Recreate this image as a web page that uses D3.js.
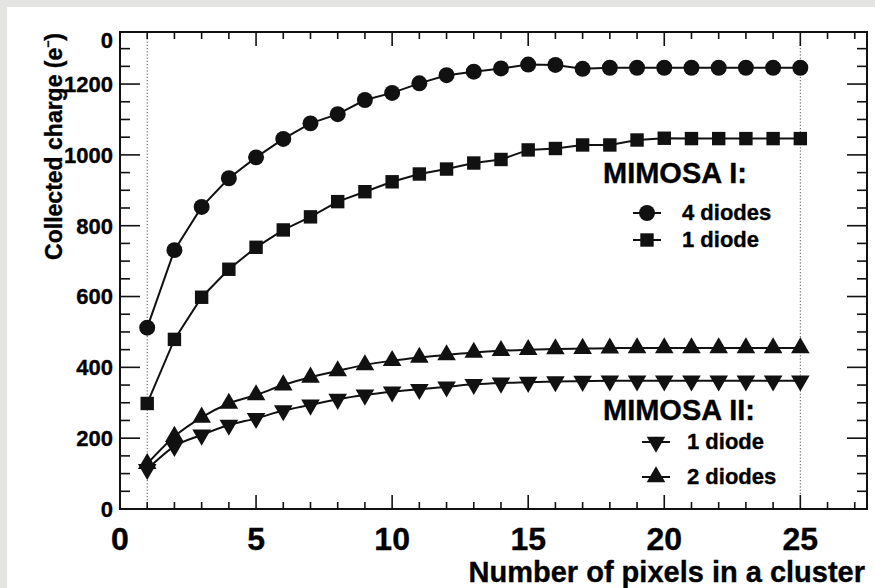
<!DOCTYPE html>
<html>
<head>
<meta charset="utf-8">
<script src="https://cdn.jsdelivr.net/npm/d3@7"></script>
<style>
  html, body { margin: 0; padding: 0; background: #e4e4e2; }
  svg { display: block; }
  text { font-family: "Liberation Sans", Arial, Helvetica, sans-serif; font-weight: bold; fill: #000; stroke: #000; stroke-width: 0.35px; }
</style>
</head>
<body>
<svg id="chart" width="875" height="588"></svg>
<script>
// ---------------- data ----------------
const pixels = [1,2,3,4,5,6,7,8,9,10,11,12,13,14,15,16,17,18,19,20,21,22,23,24,25];
const mimosa1FourDiodes = [512, 731, 853, 934, 993, 1045, 1089, 1115, 1155, 1175, 1202, 1225, 1235, 1244, 1255, 1254, 1243, 1246, 1246, 1246, 1246, 1246, 1246, 1246, 1246];
const mimosa1OneDiode   = [298, 479, 598, 677, 739, 788, 825, 868, 896, 924, 946, 960, 977, 987, 1014, 1018, 1028, 1028, 1042, 1047, 1046, 1046, 1046, 1046, 1046];
const mimosa2TwoDiodes  = [128, 205, 259, 298, 322, 350, 372, 390, 407, 419, 428, 435, 442, 447, 450, 452, 453, 454, 455, 455, 455, 455, 455, 455, 455];
const mimosa2OneDiode   = [112, 177, 209, 237, 256, 278, 294, 310, 322, 331, 338, 345, 352, 356, 358, 360, 361, 362, 362, 362, 362, 362, 362, 362, 362];

const xTickLabels = [0, 5, 10, 15, 20, 25];
const yTickLabels = [0, 200, 400, 600, 800, 1000, 1200];
const yTopClippedLabel = "0";
const xTitle = "Number of pixels in a cluster";
const yTitle = "Collected charge (e";
const legendGroups = [
  { title: "MIMOSA I:", items: [ { label: "4 diodes", key: "circle" }, { label: "1 diode", key: "square" } ] },
  { title: "MIMOSA II:", items: [ { label: "1 diode", key: "down" }, { label: "2 diodes", key: "up" } ] }
];

// ---------------- setup ----------------
const svg = d3.select("#chart");
svg.append("rect").attr("x", 7).attr("y", 7).attr("width", 868).attr("height", 581).attr("fill", "#fff");

const margin = { left: 120, top: 32, right: 8, bottom: 79 };
const W = 875, H = 588;
const x = d3.scaleLinear().domain([0, 27.45]).range([margin.left, W - margin.right]);
const y = d3.scaleLinear().domain([0, 1347]).range([H - margin.bottom, margin.top]);

const ink = "#111";
const g = svg.append("g");

// dotted verticals at 1 and 25
[1, 25].forEach(v => {
  g.append("line").attr("x1", x(v)).attr("x2", x(v)).attr("y1", y.range()[1]).attr("y2", y.range()[0])
    .attr("stroke", "#555").attr("stroke-width", 1).attr("stroke-dasharray", "1.2,2");
});

// ticks
const yMinor = d3.range(0, 1347, 50);
const xMinor = d3.range(0, 28, 1);
yMinor.forEach(v => {
  const major = v % 200 === 0;
  const L = major ? 20 : 10;
  g.append("line").attr("x1", x.range()[0]).attr("x2", x.range()[0] + L).attr("y1", y(v)).attr("y2", y(v)).attr("stroke", ink).attr("stroke-width", 1.6);
  g.append("line").attr("x1", x.range()[1]).attr("x2", x.range()[1] - L).attr("y1", y(v)).attr("y2", y(v)).attr("stroke", ink).attr("stroke-width", 1.6);
});
xMinor.forEach(v => {
  const major = v % 5 === 0;
  const L = major ? 14 : 7;
  g.append("line").attr("x1", x(v)).attr("x2", x(v)).attr("y1", y.range()[0]).attr("y2", y.range()[0] - L).attr("stroke", ink).attr("stroke-width", 1.6);
  g.append("line").attr("x1", x(v)).attr("x2", x(v)).attr("y1", y.range()[1]).attr("y2", y.range()[1] + L).attr("stroke", ink).attr("stroke-width", 1.6);
});

// frame
g.append("rect").attr("x", x.range()[0]).attr("y", y.range()[1])
  .attr("width", x.range()[1] - x.range()[0]).attr("height", y.range()[0] - y.range()[1])
  .attr("fill", "none").attr("stroke", ink).attr("stroke-width", 2);

// tick labels
g.selectAll("text.yl").data(yTickLabels).enter().append("text")
  .attr("x", x.range()[0] - 7).attr("y", d => y(d)).attr("dy", "0.36em")
  .attr("text-anchor", "end").attr("font-size", 22).text(d => d);
g.append("text").attr("x", x.range()[0] - 7).attr("y", y.range()[1] + 8).attr("dy", "0.36em")
  .attr("text-anchor", "end").attr("font-size", 22).text(yTopClippedLabel);
g.selectAll("text.xl").data(xTickLabels).enter().append("text")
  .attr("x", d => x(d)).attr("y", y.range()[0] + 41)
  .attr("text-anchor", "middle").attr("font-size", 32).text(d => d);

// axis titles
g.append("text").attr("x", 865).attr("y", 582).attr("text-anchor", "end").attr("font-size", 29).text(xTitle);
const yt = g.append("text").attr("transform", "translate(62,33) rotate(-90)").attr("text-anchor", "end").attr("font-size", 23);
yt.append("tspan").text(yTitle);
yt.append("tspan").attr("font-size", 12).attr("dy", -10).text("\u2212");
yt.append("tspan").attr("dy", 10).text(")");

// series
const series = [
  { key: "circle", values: mimosa1FourDiodes, curve: d3.curveLinear },
  { key: "square", values: mimosa1OneDiode, curve: d3.curveLinear },
  { key: "up", values: mimosa2TwoDiodes, curve: d3.curveMonotoneX },
  { key: "down", values: mimosa2OneDiode, curve: d3.curveMonotoneX }
];
const symbolFor = {
  circle: d3.symbol().type(d3.symbolCircle).size(200),
  square: d3.symbol().type(d3.symbolSquare).size(180),
  up: d3.symbol().type(d3.symbolTriangle).size(150),
  down: d3.symbol().type(d3.symbolTriangle).size(150)
};
const rotFor = { circle: 0, square: 0, up: 0, down: 180 };

series.forEach(s => {
  const pts = pixels.map((p, i) => [p, s.values[i]]);
  g.append("path").datum(pts)
    .attr("d", d3.line().x(d => x(d[0])).y(d => y(d[1])).curve(s.curve))
    .attr("fill", "none").attr("stroke", ink).attr("stroke-width", 2);
  g.selectAll(null).data(pts).enter().append("path")
    .attr("d", symbolFor[s.key]())
    .attr("transform", d => `translate(${x(d[0])},${y(d[1])}) rotate(${rotFor[s.key]})`)
    .attr("fill", ink);
});

// legends
const legendLayout = [
  { tx: 603, ty: 183, rows: [220, 247] },
  { tx: 603, ty: 420, rows: [449, 484] }
];
legendGroups.forEach((grp, gi) => {
  const L = legendLayout[gi];
  g.append("text").attr("x", L.tx).attr("y", L.ty).attr("font-size", 29).text(grp.title);
  grp.items.forEach((it, ii) => {
    const by = L.rows[ii];
    const mx = gi === 0 ? 647 : 656;
    const tx = gi === 0 ? 682 : 687;
    const my = by - 7;
    g.append("line").attr("x1", mx - 14).attr("x2", mx + 14).attr("y1", my).attr("y2", my).attr("stroke", ink).attr("stroke-width", 2);
    g.append("path").attr("d", symbolFor[it.key]()).attr("transform", `translate(${mx},${my}) rotate(${rotFor[it.key]})`).attr("fill", ink);
    g.append("text").attr("x", tx).attr("y", by).attr("font-size", 22).text(it.label);
  });
});
</script>
</body>
</html>
